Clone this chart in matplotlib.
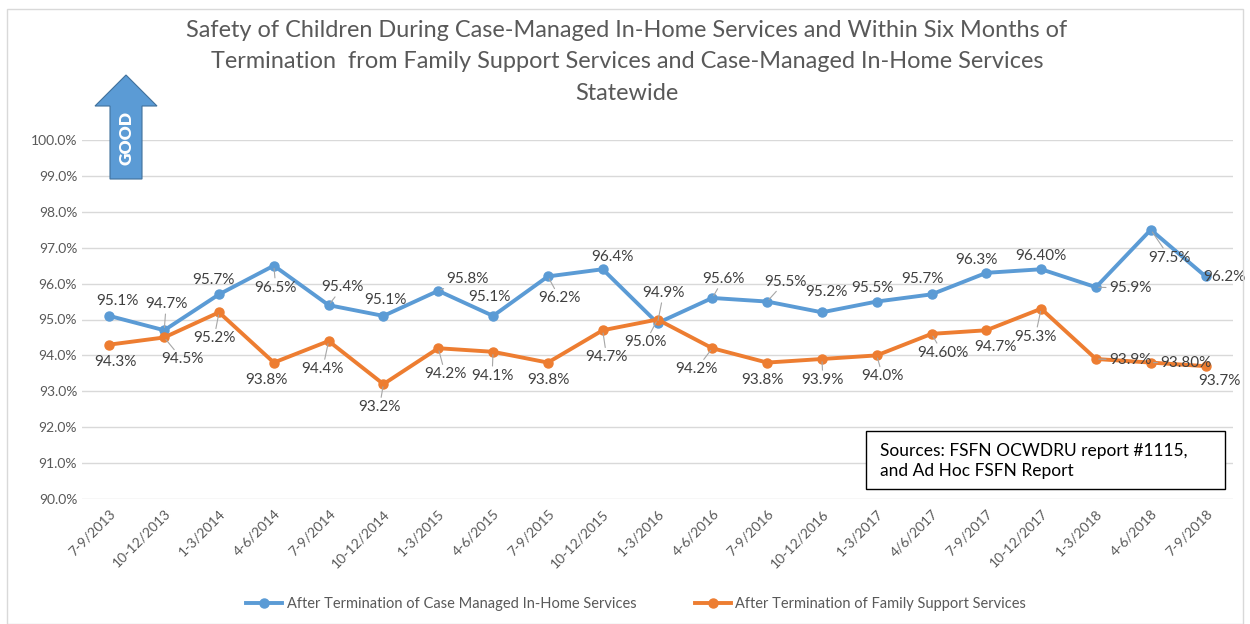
import numpy as np
import matplotlib
matplotlib.use("Agg")
import matplotlib.pyplot as plt
from matplotlib.patches import Polygon, Rectangle
from matplotlib.ticker import FuncFormatter

plt.rcParams["font.family"] = ["Lato", "DejaVu Sans"]

quarters = ["7-9/2013", "10-12/2013", "1-3/2014", "4-6/2014", "7-9/2014", "10-12/2014",
            "1-3/2015", "4-6/2015", "7-9/2015", "10-12/2015", "1-3/2016", "4-6/2016",
            "7-9/2016", "10-12/2016", "1-3/2017", "4/6/2017", "7-9/2017", "10-12/2017",
            "1-3/2018", "4-6/2018", "7-9/2018"]
in_home = [95.1, 94.7, 95.7, 96.5, 95.4, 95.1, 95.8, 95.1, 96.2, 96.4, 94.9,
           95.6, 95.5, 95.2, 95.5, 95.7, 96.3, 96.4, 95.9, 97.5, 96.2]
family_support = [94.3, 94.5, 95.2, 93.8, 94.4, 93.2, 94.2, 94.1, 93.8, 94.7, 95.0,
                  94.2, 93.8, 93.9, 94.0, 94.6, 94.7, 95.3, 93.9, 93.8, 93.7]
in_home_labels = ["95.1%", "94.7%", "95.7%", "96.5%", "95.4%", "95.1%", "95.8%", "95.1%",
                  "96.2%", "96.4%", "94.9%", "95.6%", "95.5%", "95.2%", "95.5%", "95.7%",
                  "96.3%", "96.40%", "95.9%", "97.5%", "96.2%"]
family_labels = ["94.3%", "94.5%", "95.2%", "93.8%", "94.4%", "93.2%", "94.2%", "94.1%",
                 "93.8%", "94.7%", "95.0%", "94.2%", "93.8%", "93.9%", "94.0%", "94.60%",
                 "94.7%", "95.3%", "93.9%", "93.80%", "93.7%"]

# label offsets in pixels (dx right, dy down)
blue_off = [(8, -15), (2, -26), (-6, -14), (2, 22), (14, -18), (2, -16), (29, -12),
            (-4, -19), (12, 22), (10, -12), (6, -30), (11, -19), (18, -20), (5, -20),
            (-4, -14), (-9, -15), (-10, -13), (0, -13), (34, 1), (19, 28), (19, 1)]
orange_off = [(6, 17), (18, 22), (-5, 26), (-7, 17), (-6, 28), (-4, 23), (7, 26),
              (-1, 24), (1, 17), (4, 27), (-12, 23), (-16, 21), (-5, 17), (1, 21),
              (6, 21), (11, 19), (9, 17), (-6, 28), (34, 1), (35, 0), (14, 15)]

BLUE = "#5B9BD5"
ORANGE = "#ED7D31"

fig = plt.figure(figsize=(12.5, 6.24), dpi=100)
ax = fig.add_axes([82 / 1250, 1 - 499 / 624, (1233 - 82) / 1250, (499 - 140) / 624])

x = np.arange(len(quarters))
ax.plot(x, in_home, color=BLUE, lw=2.8, marker="o", ms=6.5,
        label="After Termination of Case Managed In-Home Services", zorder=3)
ax.plot(x, family_support, color=ORANGE, lw=2.8, marker="o", ms=6.5,
        label="After Termination of Family Support Services", zorder=3)

for vals, labs, offs in [(in_home, in_home_labels, blue_off),
                         (family_support, family_labels, orange_off)]:
    for i, (v, t, (dx, dy)) in enumerate(zip(vals, labs, offs)):
        kw = {}
        if np.hypot(dx, dy) > 21:
            kw["arrowprops"] = dict(arrowstyle="-", color="#a6a6a6", lw=0.8,
                                    shrinkA=0, shrinkB=2)
        ax.annotate(t, (i, v), xytext=(dx, -dy), textcoords="offset pixels",
                    ha="center", va="center", fontsize=11, color="#404040",
                    zorder=4, **kw)

ax.set_xlim(-0.5, len(quarters) - 0.5)
ax.set_ylim(90, 100)
ax.set_yticks(np.arange(90, 100.1, 1))
ax.yaxis.set_major_formatter(FuncFormatter(lambda v, p: f"{v:.1f}%"))
ax.set_xticks(x)
ax.set_xticklabels(quarters, rotation=45, ha="right", rotation_mode="anchor")
ax.tick_params(axis="both", length=0, colors="#595959", labelsize=10)
ax.tick_params(axis="x", pad=6, labelsize=10)
ax.grid(axis="y", color="#d9d9d9", lw=1)
ax.set_axisbelow(True)
for s in ax.spines.values():
    s.set_visible(False)

# chart border
fig.patches.append(Rectangle((7 / 1250, 0), 1236 / 1250, 1 - 9 / 624, transform=fig.transFigure,
                             fill=False, ec="#d9d9d9", lw=1))

fig.text(627 / 1250, 1 - 62 / 624,
         "Safety of Children During Case-Managed In-Home Services and Within Six Months of\n"
         "Termination  from Family Support Services and Case-Managed In-Home Services\n"
         "Statewide", ha="center", va="center", fontsize=16.9, color="#595959", linespacing=1.6)

# GOOD arrow
pts = [(110, 179), (142, 179), (142, 106), (157, 106), (126, 75), (95, 106), (110, 106)]
fig.patches.append(Polygon([(px / 1250, 1 - py / 624) for px, py in pts], closed=True,
                           transform=fig.transFigure, fc=BLUE, ec="#41719C", lw=0.8))
fig.text(127 / 1250, 1 - 138 / 624, "GOOD", rotation=90, ha="center", va="center",
         color="white", fontsize=12.5, fontweight="heavy")

# sources box
fig.patches.append(Rectangle((866 / 1250, 1 - 489 / 624), 359 / 1250, 58 / 624,
                             transform=fig.transFigure, fc="white", ec="black", lw=1, zorder=5))
fig.text(880 / 1250, 1 - 461 / 624, "Sources: FSFN OCWDRU report #1115,\nand Ad Hoc FSFN Report",
         ha="left", va="center", fontsize=12.5, color="black", linespacing=1.35, zorder=6)

fig.legend(loc="center", bbox_to_anchor=(636 / 1250, 1 - 604 / 624), ncol=2, frameon=False,
           fontsize=10.5, labelcolor="#595959", columnspacing=4, handlelength=2.5,
           handletextpad=0.3)

fig.savefig("out.png", dpi=100)
